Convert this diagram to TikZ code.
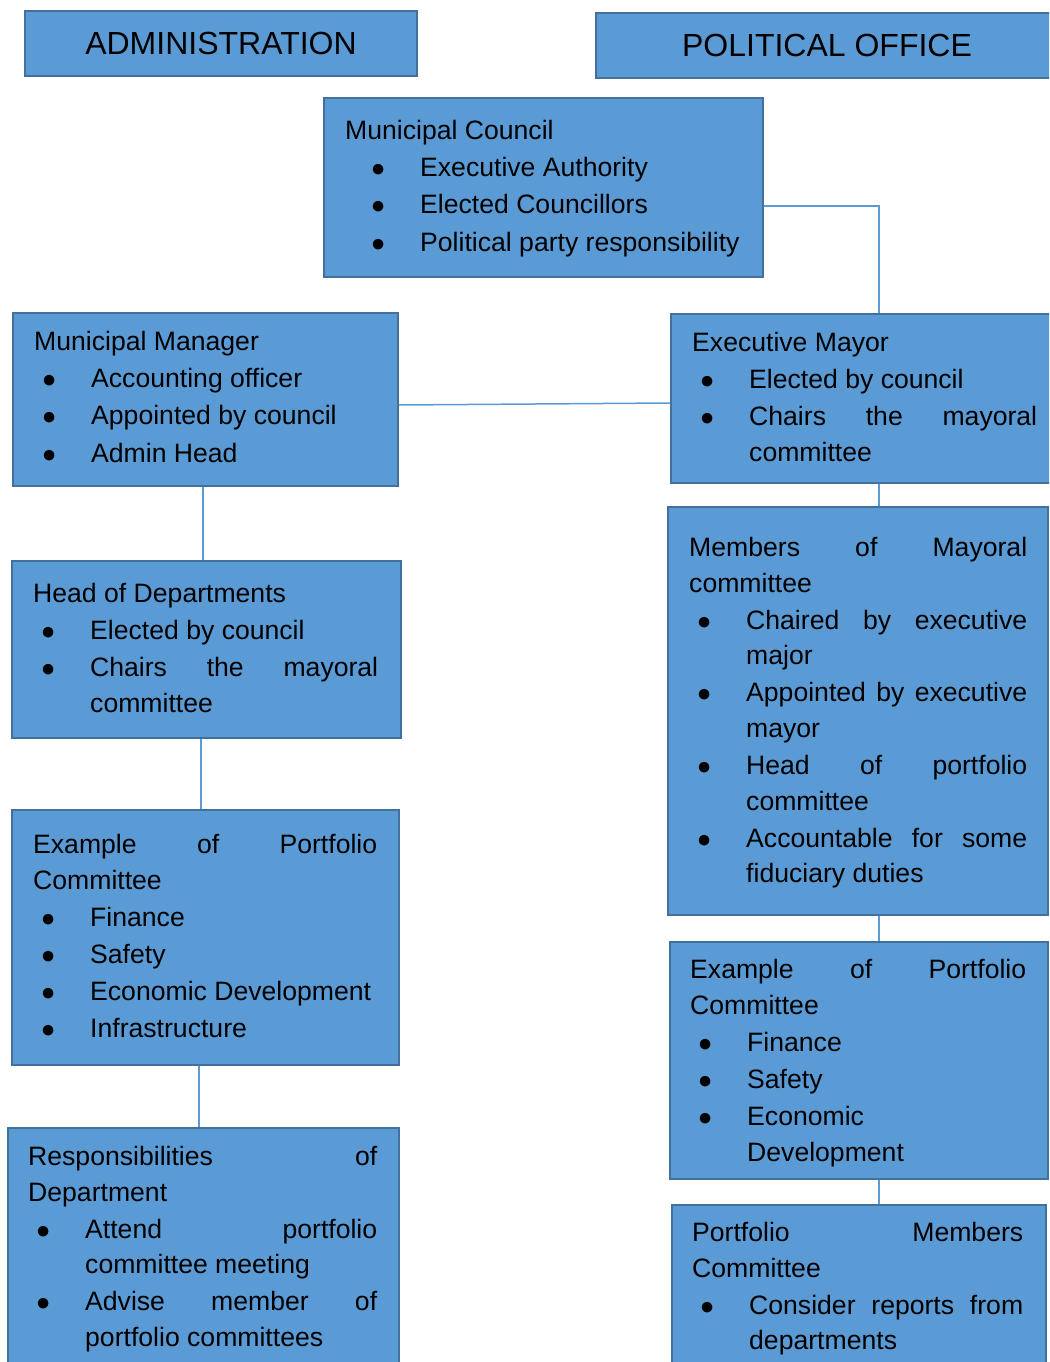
\documentclass[tikz,border=0pt]{standalone}
\usepackage{fontspec}
\setmainfont{Liberation Sans}
\usetikzlibrary{calc}
\definecolor{boxfill}{HTML}{5B9BD5}
\definecolor{boxline}{HTML}{41719C}
\definecolor{connline}{HTML}{5B9BD5}
\newcommand\bodyfont{\fontsize{26.6pt}{35.5pt}\selectfont\parskip=1.6pt\parindent=0pt\tolerance=10000\hbadness=10000\relax}
\newcommand\bitemx[3]{\par\hangindent=#2pt\hangafter=1\makebox[#2pt][l]{\hspace*{#1pt}\makebox[0pt][c]{\scalebox{1.1}{$\bullet$}}}#3\par}
\newcommand\bit[1]{\bitemx{15}{57}{#1}}
\tikzset{
  box/.style={draw=boxline, fill=boxfill, line width=2pt, anchor=north west, inner sep=0pt},
  hdr/.style={font=\fontsize{32pt}{38pt}\selectfont, text=black},
  txt/.style={anchor=north west, inner sep=0pt, align=justify, text width=#1, font=\bodyfont, text=black},
  conn/.style={draw=connline, line width=1.5pt}
}
\begin{document}
\begin{tikzpicture}[x=1pt,y=-1pt]
\useasboundingbox (0,0) rectangle (1049,1362);
\clip (0,0) rectangle (1049,1362);
% boxes
\node[box,hdr,minimum width=392pt,minimum height=65pt] (adm) at (24,10) {ADMINISTRATION};
\node[box,hdr,minimum width=462pt,minimum height=65pt] (pol) at (595,12) {POLITICAL OFFICE};
\node[box,minimum width=439pt,minimum height=179pt] (mc) at (323,97) {};
\node[box,minimum width=385pt,minimum height=173pt] (mm) at (12,312) {};
\node[box,minimum width=416pt,minimum height=169pt] (em) at (670,313) {};
\node[box,minimum width=389pt,minimum height=177pt] (hod) at (11,560) {};
\node[box,minimum width=387pt,minimum height=255pt] (exl) at (11,809) {};
\node[box,minimum width=391pt,minimum height=293pt] (resp) at (7,1127) {};
\node[box,minimum width=380pt,minimum height=408pt] (mem) at (667,506) {};
\node[box,minimum width=378pt,minimum height=237pt] (exr) at (669,941) {};
\node[box,minimum width=374pt,minimum height=216pt] (pmc) at (671,1204) {};
% connectors
\draw[conn] ([yshift=-18.5pt]mc.east) -| (em.north);
\draw[conn] ([yshift=-5.5pt]mm.east) -- ([yshift=-4.5pt]em.west);
\draw[conn] ([xshift=-2.5pt]mm.south) -- ([xshift=-2.5pt]mm.south |- hod.north);
\draw[conn] ([xshift=-5.5pt]hod.south) -- ([xshift=-5.5pt]hod.south |- exl.north);
\draw[conn] ([xshift=-6.5pt]exl.south) -- ([xshift=-6.5pt]exl.south |- resp.north);
\draw[conn] (em.south) -- (em.south |- mem.north);
\draw[conn] (mem.south -| em.south) -- (exr.north -| em.south);
\draw[conn] (exr.south -| em.south) -- (pmc.north -| em.south);
% texts
\node[txt=400pt] (mct) at (345,114.65) {\strut Municipal Council\bitemx{33}{75}{Executive Authority}\bitemx{33}{75}{Elected Councillors}\bitemx{33}{75}{Political party responsibility}};
\node[txt=342pt] (mmt) at (34,325.65) {\strut Municipal Manager\bit{Accounting officer}\bit{Appointed by council}\bit{Admin Head}};
\node[txt=345pt] (emt) at (692,326.65) {\strut Executive Mayor\bit{Elected by council}\bit{Chairs the mayoral\linebreak committee}};
\node[txt=345pt] (hodt) at (33,577.65) {\strut Head of Departments\bit{Elected by council}\bit{Chairs the mayoral\linebreak committee}};
\node[txt=344pt] (exlt) at (33,828.65) {\strut Example of Portfolio\linebreak Committee\bit{Finance}\bit{Safety}\bit{Economic Development}\bit{Infrastructure}};
\node[txt=349pt] (respt) at (28,1140.65) {\strut Responsibilities of\linebreak Department\bit{Attend portfolio\linebreak committee meeting}\bit{Advise member of\linebreak portfolio committees}};
\node[txt=338pt] (memt) at (689,531.65) {\strut Members of Mayoral\linebreak committee\bit{Chaired by executive\linebreak major}\bit{Appointed by executive\linebreak mayor}\bit{Head of portfolio\linebreak committee}\bit{Accountable for some\linebreak fiduciary duties}};
\node[txt=336pt] (exrt) at (690,953.65) {\strut Example of Portfolio\linebreak Committee\bit{Finance}\bit{Safety}\bit{Economic\newline Development}};
\node[txt=331pt] (pmct) at (692,1216.65) {\strut Portfolio Members\linebreak Committee\bit{Consider reports from\linebreak departments}};
\end{tikzpicture}
\end{document}
